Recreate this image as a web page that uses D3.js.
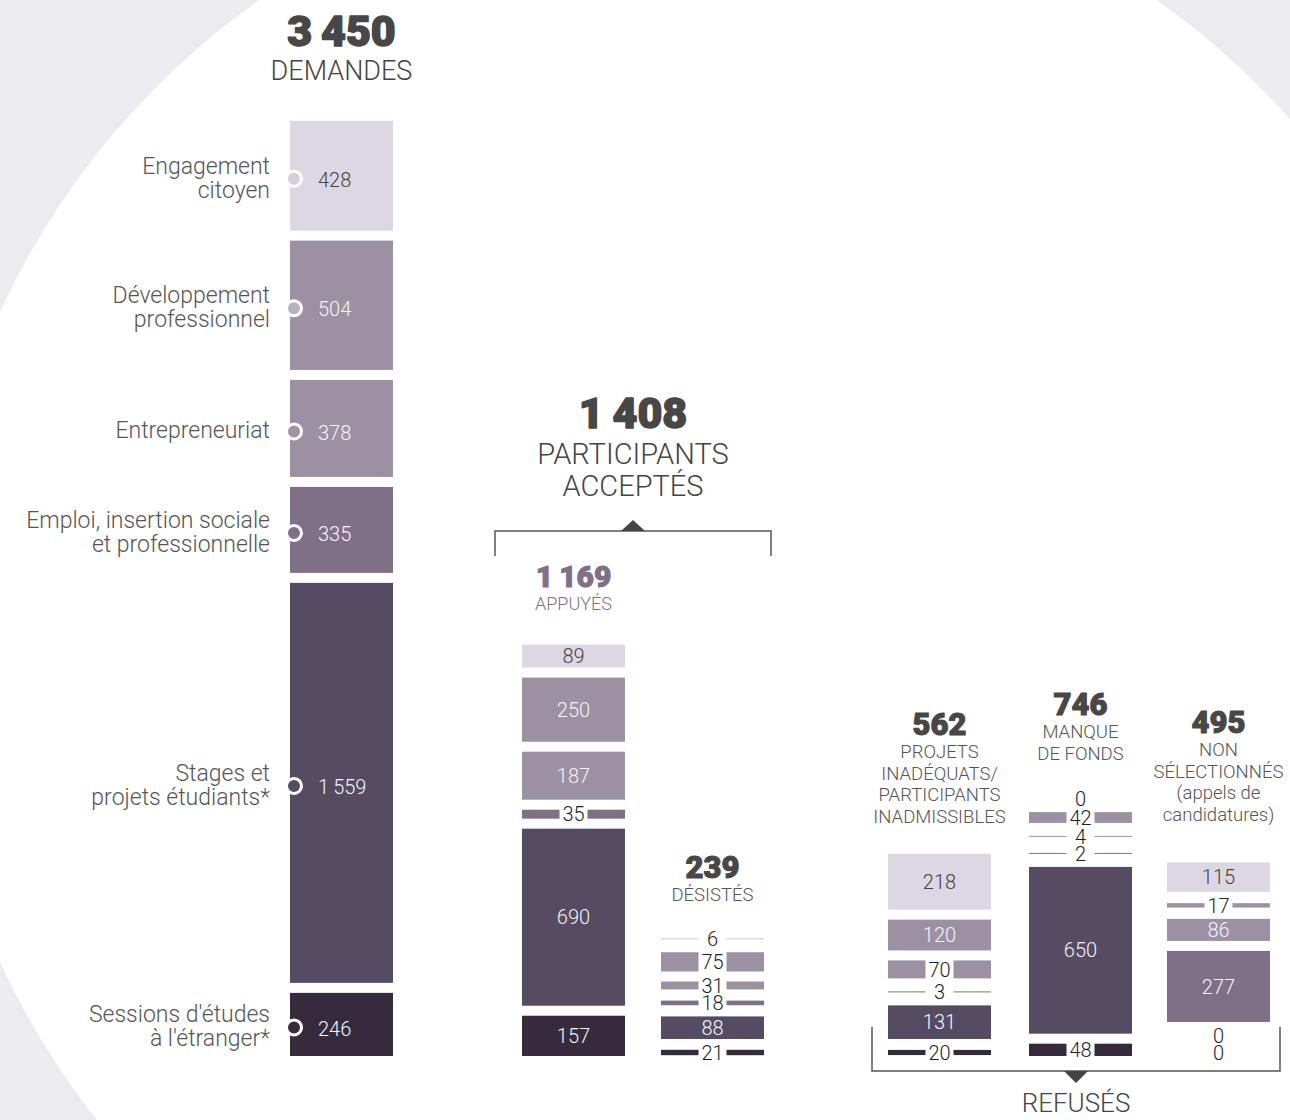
<!DOCTYPE html>
<html>
<head>
<meta charset="utf-8">
<script src="https://cdn.jsdelivr.net/npm/d3@7"></script>
<style>
    body { margin: 0; background: #fff; }
    svg text { font-family: Roboto, "Noto Sans", sans-serif; }
</style>
</head>
<body>
<div id="chart"></div>
<script>
// categories, top to bottom in every stack
const categoryLines = [
    ["Engagement", "citoyen"],
    ["Développement", "professionnel"],
    ["Entrepreneuriat"],
    ["Emploi, insertion sociale", "et professionnelle"],
    ["Stages et", "projets étudiants*"],
    ["Sessions d'études", "à l'étranger*"],
];
const demandes = [428, 504, 378, 335, 1559, 246];
const appuyes = [89, 250, 187, 35, 690, 157];
const desistes = [6, 75, 31, 18, 88, 21];
const inadequats = [218, 120, 70, 3, 131, 20];
const manqueFonds = [0, 42, 4, 2, 650, 48];
const nonSelectionnes = [115, 17, 86, 277, 0, 0];

const totalDemandes = 3450;
const totalAcceptes = 1408;
const totalAppuyes = 1169;
const totalDesistes = 239;
const totalInadequats = 562;
const totalManque = 746;
const totalNonSel = 495;

const colors = ["#dcd7e2", "#9b91a3", "#9b91a3", "#7f7088", "#554b63", "#352b3d"];
const dotColors = ["#d5cfdb", "#bab2c0", "#9e94a6", "#7f7088", "#554b63", "#352b3d"];
const lightCat = [true, false, false, false, false, false];

const width = 1290;
const height = 1120;
const baseY = 1056;
const barW = 103;
const gap = 10;
const minSlot = 7;
const knockW = 28;

const fr = d3.formatLocale({ decimal: ",", thousands: "\u2009", grouping: [3], currency: ["", " $"] });
const fmt = fr.format(",");

const svg = d3
    .select("#chart")
    .append("svg")
    .attr("width", width)
    .attr("height", height);

// background: grey page with a big white disc
svg.append("rect").attr("width", width).attr("height", height).attr("fill", "#ecebf0");
svg.append("circle").attr("cx", 708).attr("cy", 637).attr("r", 779).attr("fill", "#fff");

const h = d3.scaleLinear().domain([0, d3.max(demandes)]).range([0, 400]);
const stackX = d3
    .scaleOrdinal()
    .domain(["demandes", "appuyes", "desistes", "inadequats", "manque", "non"])
    .range([290, 522, 661, 888, 1029, 1167]);

function layoutStack(values) {
    let cur = baseY;
    const out = [];
    for (let i = values.length - 1; i >= 0; i--) {
        const bh = h(values[i]);
        const slot = Math.max(bh, minSlot);
        out[i] = { i: i, v: values[i], bh: bh, mid: cur - slot / 2 };
        cur -= slot + gap;
    }
    return out;
}

function drawStack(id, values, leftAligned) {
    const x0 = stackX(id);
    const segs = layoutStack(values);
    const g = svg.append("g").attr("id", id);

    // tall segments hold their label, thin ones are cut to let it through
    const pieces = [];
    segs.forEach((s) => {
        if (s.bh >= 20) {
            pieces.push({ x: x0, w: barW, s: s });
        } else if (s.v > 0) {
            const half = (barW - knockW) / 2;
            pieces.push({ x: x0, w: half, s: s });
            pieces.push({ x: x0 + barW - half, w: half, s: s });
        }
    });

    g.selectAll("rect")
        .data(pieces)
        .join("rect")
        .attr("x", (d) => d.x)
        .attr("width", (d) => d.w)
        .attr("y", (d) => d.s.mid - Math.max(d.s.bh, 1) / 2)
        .attr("height", (d) => Math.max(d.s.bh, 1))
        .attr("fill", (d) => colors[d.s.i]);

    g.selectAll("text")
        .data(segs)
        .join("text")
        .attr("x", (d) => (leftAligned ? x0 + 28 : x0 + barW / 2))
        .attr("y", (d) => d.mid + (leftAligned ? 4 : 0))
        .attr("dy", "0.36em")
        .attr("text-anchor", leftAligned ? "start" : "middle")
        .attr("font-size", "20px")
        .attr("font-weight", 300)
        .attr("fill", (d) => (d.bh < 20 ? "#1e1e1e" : lightCat[d.i] ? "#444" : "#f6f4f8"))
        .text((d) => fmt(d.v));

    return segs;
}

const demSegs = drawStack("demandes", demandes, true);
drawStack("appuyes", appuyes, false);
drawStack("desistes", desistes, false);
drawStack("inadequats", inadequats, false);
drawStack("manque", manqueFonds, false);
drawStack("non", nonSelectionnes, false);

// category labels and dots of the first stack
const catG = svg.append("g").attr("id", "categories");
catG.selectAll("circle")
    .data(demSegs)
    .join("circle")
    .attr("cx", stackX("demandes") + 4)
    .attr("cy", (d) => d.mid + 3)
    .attr("r", 7.5)
    .attr("fill", (d) => dotColors[d.i])
    .attr("stroke", "#fff")
    .attr("stroke-width", 3);

catG.selectAll("text")
    .data(demSegs)
    .join("text")
    .attr("x", stackX("demandes") - 20)
    .attr("y", (d) => d.mid + 10 - (categoryLines[d.i].length - 1) * 12)
    .attr("text-anchor", "end")
    .attr("font-size", "23px")
    .attr("font-weight", 300)
    .attr("fill", "#555")
    .each(function (d) {
        d3.select(this)
            .selectAll("tspan")
            .data(categoryLines[d.i])
            .join("tspan")
            .attr("x", stackX("demandes") - 20)
            .attr("dy", (t, j) => (j === 0 ? 0 : 24))
            .text((t) => t);
    });

// headings: heavy total + light caption lines
function heading(cx, y, total, size, lines, lineSize, lineStep, color, subColor) {
    const g = svg.append("g");
    g.append("text")
        .attr("x", cx)
        .attr("y", y)
        .attr("text-anchor", "middle")
        .attr("font-size", size + "px")
        .attr("font-weight", 900)
        .attr("fill", color)
        .attr("stroke", color)
        .attr("stroke-width", size / 30)
        .attr("stroke-linejoin", "round")
        .text(fmt(total));
    g.selectAll("text.sub")
        .data(lines)
        .join("text")
        .attr("class", "sub")
        .attr("x", cx)
        .attr("y", (d, i) => y + lineSize * 1.25 + i * lineStep)
        .attr("text-anchor", "middle")
        .attr("font-size", lineSize + "px")
        .attr("font-weight", 300)
        .attr("fill", subColor)
        .text((d) => d);
}

const mid = (id) => stackX(id) + barW / 2;
heading(mid("demandes"), 46, totalDemandes, 43, ["DEMANDES"], 27, 32, "#474747", "#444");
const accCx = (stackX("appuyes") - 27 + stackX("desistes") + barW + 7) / 2;
heading(accCx, 428, totalAcceptes, 43, ["PARTICIPANTS", "ACCEPTÉS"], 29, 32, "#474747", "#444");
heading(mid("appuyes"), 587, totalAppuyes, 30, ["APPUYÉS"], 18, 21, "#7f7088", "#7f7088");
heading(mid("desistes"), 878, totalDesistes, 31, ["DÉSISTÉS"], 18.5, 21, "#474747", "#555");
heading(mid("inadequats"), 735, totalInadequats, 31,
    ["PROJETS", "INADÉQUATS/", "PARTICIPANTS", "INADMISSIBLES"], 18.5, 21.5, "#474747", "#555");
heading(mid("manque"), 715, totalManque, 31, ["MANQUE", "DE FONDS"], 18.5, 21.5, "#474747", "#555");
heading(mid("non"), 733, totalNonSel, 31,
    ["NON", "SÉLECTIONNÉS", "(appels de", "candidatures)"], 18.5, 21.5, "#474747", "#555");

// brackets
const topL = stackX("appuyes") - 27;
const topR = stackX("desistes") + barW + 7;
svg.append("path")
    .attr("d", `M${topL},556 V531 H${topR} V556`)
    .attr("fill", "none")
    .attr("stroke", "#555")
    .attr("stroke-width", 1.5);
svg.append("path")
    .attr("d", `M${accCx - 12},531 L${accCx},520 L${accCx + 12},531 Z`)
    .attr("fill", "#444");

const botL = stackX("inadequats") - 16;
const botR = stackX("non") + barW + 10;
const botCx = (botL + botR) / 2;
svg.append("path")
    .attr("d", `M${botL},1027 V1071 H${botR} V1027`)
    .attr("fill", "none")
    .attr("stroke", "#555")
    .attr("stroke-width", 1.5);
svg.append("path")
    .attr("d", `M${botCx - 12},1071 L${botCx},1083 L${botCx + 12},1071 Z`)
    .attr("fill", "#444");
svg.append("text")
    .attr("x", botCx)
    .attr("y", 1112)
    .attr("text-anchor", "middle")
    .attr("font-size", "26px")
    .attr("font-weight", 300)
    .attr("fill", "#444")
    .text("REFUSÉS");
</script>
</body>
</html>
